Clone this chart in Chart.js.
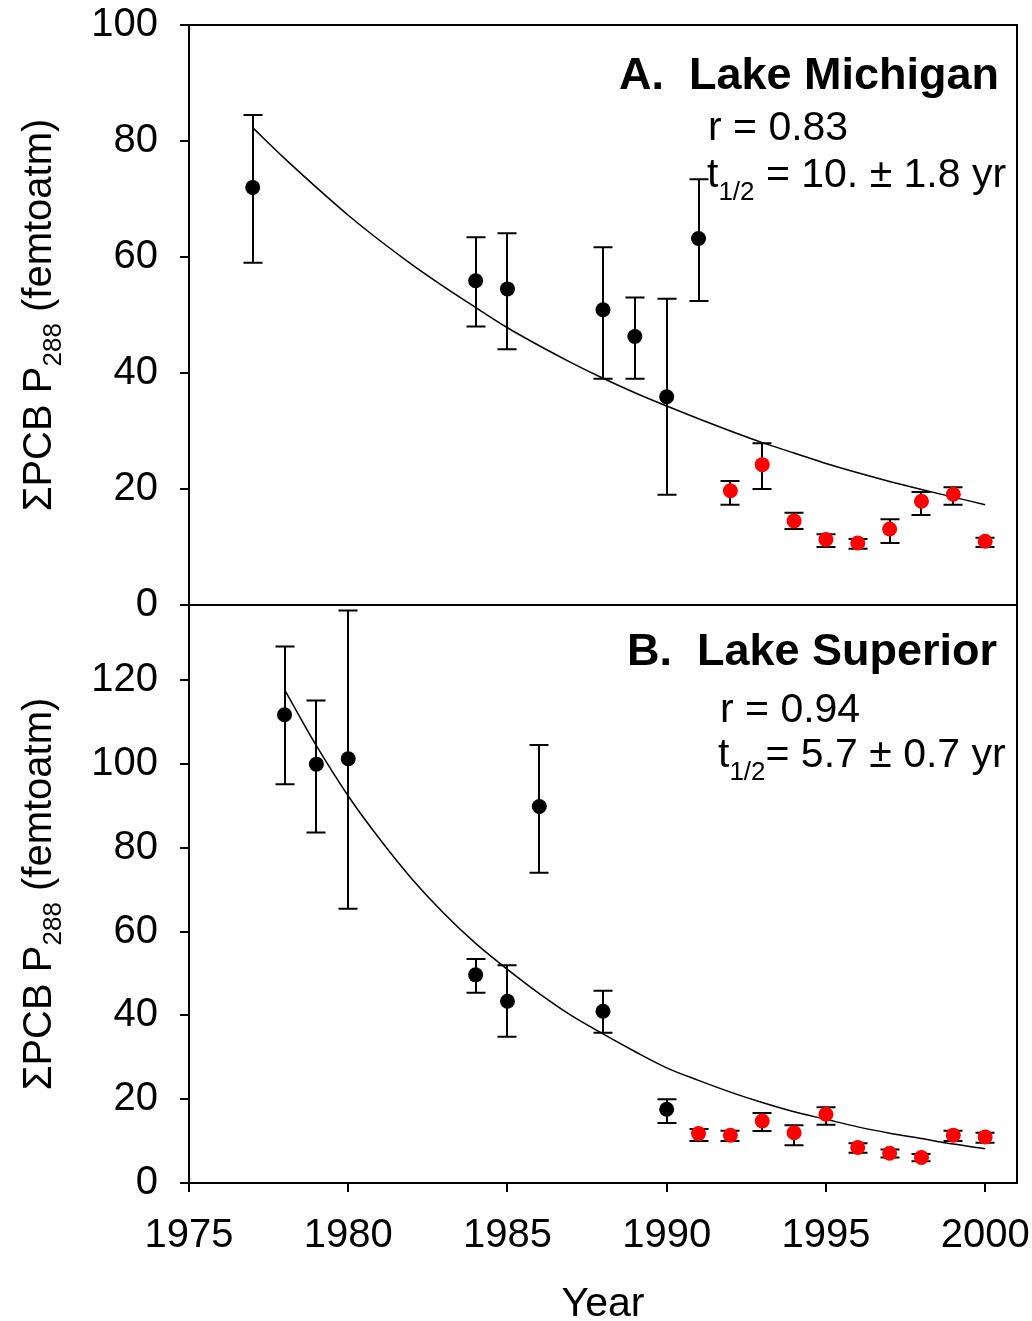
<!DOCTYPE html>
<html><head><meta charset="utf-8">
<script src="https://cdn.jsdelivr.net/npm/chart.js@4.4.0/dist/chart.umd.min.js"></script>
<style>
html,body{margin:0;padding:0;background:#fff;}
#wrap{position:relative;width:1032px;height:1321px;background:#fff;}
canvas{position:absolute;left:0;top:0;}
</style></head><body>
<div id="wrap"><canvas id="cA" width="1032" height="1321"></canvas><canvas id="cB" width="1032" height="1321"></canvas></div>
<script>
// ---------- data ----------
const xTickYears = [1975, 1980, 1985, 1990, 1995, 2000];
const yTicksA = [0, 20, 40, 60, 80, 100];
const yTicksB = [0, 20, 40, 60, 80, 100, 120];

// Panel A: Lake Michigan
const michBlackYears = [1977, 1984, 1985, 1988, 1989, 1990, 1991];
const michBlackVals  = [72.0, 55.9, 54.5, 50.9, 46.3, 35.9, 63.2];
const michBlackHi    = [84.5, 63.4, 64.1, 61.7, 53.0, 52.8, 73.4];
const michBlackLo    = [59.0, 48.0, 44.1, 39.0, 39.0, 19.0, 52.4];
const michRedYears = [1992, 1993, 1994, 1995, 1996, 1997, 1998, 1999, 2000];
const michRedVals  = [19.7, 24.2, 14.5, 11.3, 10.7, 13.1, 17.9, 19.1, 11.0];
const michRedHi    = [21.4, 27.9, 15.9, 12.2, 11.4, 14.8, 19.5, 20.3, 11.6];
const michRedLo    = [17.3, 20.0, 13.1, 10.0, 9.7, 10.7, 15.5, 17.3, 10.0];
const michFitYears = [1977,1978,1979,1980,1981,1982,1983,1984,1985,1986,1987,1988,1989,1990,1991,1992,1993,1994,1995,1996,1997,1998,1999,2000];
const michFitVals  = [82.3,77.0,72.0,67.2,62.8,58.7,54.9,51.3,47.8,44.7,41.8,39.1,36.6,34.3,32.1,30.0,28.0,26.2,24.4,22.8,21.3,19.9,18.6,17.3];

// Panel B: Lake Superior
const supBlackYears = [1978, 1979, 1980, 1984, 1985, 1986, 1988, 1990];
const supBlackVals  = [111.8, 100.0, 101.3, 49.7, 43.4, 89.9, 41.0, 17.6];
const supBlackHi    = [128.1, 115.2, 136.7, 53.5, 52.0, 104.6, 45.9, 20.0];
const supBlackLo    = [95.2, 83.7, 65.5, 45.4, 34.9, 74.1, 35.9, 14.3];
const supRedYears = [1991, 1992, 1993, 1994, 1995, 1996, 1997, 1998, 1999, 2000];
const supRedVals  = [11.8, 11.4, 14.8, 12.0, 16.4, 8.5, 7.1, 6.1, 11.4, 11.0];
const supRedHi    = [12.9, 12.5, 16.7, 13.8, 18.1, 9.5, 8.0, 6.9, 12.5, 12.0];
const supRedLo    = [10.0, 10.0, 12.4, 9.0, 13.9, 7.2, 6.1, 5.2, 10.0, 9.6];
const supFitYears = [1978,1979,1980,1981,1982,1983,1984,1985,1986,1987,1988,1989,1990,1991,1992,1993,1994,1995,1996,1997,1998,1999,2000];
const supFitVals  = [117.8,104.4,92.4,82.0,72.6,64.4,57.2,51.0,45.2,40.0,35.6,31.4,27.5,24.5,21.7,19.2,17.0,15.2,13.4,11.9,10.6,9.3,8.2];

// texts
const panelATitle = "A.  Lake Michigan";
const panelAR = "r = 0.83";
const panelAT = " = 10. \u00B1 1.8 yr";
const panelBTitle = "B.  Lake Superior";
const panelBR = "r = 0.94";
const panelBT = "= 5.7 \u00B1 0.7 yr";
const yTitleMain = "\u03A3PCB P";
const yTitleSub = "288";
const yTitleRest = " (femtoatm)";
const xTitle = "Year";

// ---------- helpers ----------
const FONT = "'Liberation Sans', Arial, sans-serif";
const pts = (xs, ys) => xs.map((x, i) => ({x: x, y: ys[i]}));

function errorBarPlugin(groups) {
  return {
    id: 'errbars',
    beforeDatasetsDraw(chart) {
      const ctx = chart.ctx, xs = chart.scales.x, ys = chart.scales.y;
      ctx.save();
      ctx.strokeStyle = '#000';
      ctx.lineWidth = 2;
      ctx.lineCap = 'butt';
      groups.forEach(g => {
        g.years.forEach((yr, i) => {
          const px = Math.round(xs.getPixelForValue(yr));
          const ph = ys.getPixelForValue(g.hi[i]);
          const pl = ys.getPixelForValue(g.lo[i]);
          ctx.beginPath();
          ctx.moveTo(px, ph); ctx.lineTo(px, pl);
          ctx.moveTo(px - 9.5, ph); ctx.lineTo(px + 9.5, ph);
          ctx.moveTo(px - 9.5, pl); ctx.lineTo(px + 9.5, pl);
          ctx.stroke();
        });
      });
      ctx.restore();
    }
  };
}

function framePlugin(opts) {
  return {
    id: 'frame',
    afterDraw(chart) {
      const ctx = chart.ctx, a = chart.chartArea;
      ctx.save();
      ctx.strokeStyle = '#000';
      ctx.lineWidth = 2;
      ctx.strokeRect(a.left, a.top, a.right - a.left, a.bottom - a.top);
      // panel texts
      ctx.fillStyle = '#000';
      ctx.textBaseline = 'alphabetic';
      ctx.font = 'bold 45px ' + FONT;
      ctx.textAlign = 'right';
      ctx.fillText(opts.title, opts.titleRight, opts.titleBase);
      ctx.textAlign = 'left';
      ctx.font = '41px ' + FONT;
      ctx.fillText(opts.r, opts.rLeft, opts.rBase);
      ctx.fillText('t', opts.tLeft, opts.tBase);
      const tw = ctx.measureText('t').width;
      ctx.font = '26px ' + FONT;
      ctx.fillText('1/2', opts.tLeft + tw, opts.tBase + 13);
      const sw = ctx.measureText('1/2').width;
      ctx.font = '41px ' + FONT;
      ctx.fillText(opts.tRest, opts.tLeft + tw + sw, opts.tBase);
      // y title (rotated)
      const cy = (a.top + a.bottom) / 2;
      ctx.translate(51, cy);
      ctx.rotate(-Math.PI / 2);
      ctx.font = '40px ' + FONT;
      const w1 = ctx.measureText(yTitleMain).width;
      const w3 = ctx.measureText(yTitleRest).width;
      ctx.font = '26px ' + FONT;
      const w2 = ctx.measureText(yTitleSub).width;
      let x0 = -(w1 + w2 + w3) / 2;
      ctx.font = '40px ' + FONT;
      ctx.fillText(yTitleMain, x0, 0);
      ctx.font = '26px ' + FONT;
      ctx.fillText(yTitleSub, x0 + w1, 10);
      ctx.font = '40px ' + FONT;
      ctx.fillText(yTitleRest, x0 + w1 + w2, 0);
      ctx.restore();
      if (opts.xTitle) {
        ctx.save();
        ctx.fillStyle = '#000';
        ctx.font = '41px ' + FONT;
        ctx.textAlign = 'center';
        ctx.textBaseline = 'alphabetic';
        ctx.fillText(opts.xTitle, (a.left + a.right) / 2, 1316);
        ctx.restore();
      }
    }
  };
}

function yAxis(max, tickVals) {
  return {
    type: 'linear', min: 0, max: max,
    afterBuildTicks: s => { s.ticks = tickVals.map(v => ({value: v})); },
    afterFit: s => { s.width = 189; },
    grid: {display: true, drawOnChartArea: false, drawTicks: true, tickLength: 9, color: '#000', lineWidth: 2},
    border: {display: true, color: '#000', width: 2},
    ticks: {color: '#000', font: {family: FONT, size: 40, lineHeight: 0.05}, padding: 22, callback: v => String(v)}
  };
}

function makeChart(id, cfg) {
  return new Chart(document.getElementById(id), {
    type: 'scatter',
    data: {datasets: [
      {data: pts(cfg.blackYears, cfg.blackVals), backgroundColor: '#000', borderColor: '#000', pointRadius: 7.5, pointBorderWidth: 0, order: 1},
      {data: pts(cfg.redYears, cfg.redVals), backgroundColor: '#ff0000', borderColor: '#ff0000', pointRadius: 7.5, pointBorderWidth: 0, order: 1},
      {data: pts(cfg.fitYears, cfg.fitVals), showLine: true, borderColor: '#000', borderWidth: 1.5, pointRadius: 0, cubicInterpolationMode: 'monotone', fill: false, order: 3}
    ]},
    options: {
      responsive: false, animation: false, devicePixelRatio: 1,
      layout: {padding: cfg.padding},
      plugins: {legend: {display: false}, tooltip: {enabled: false}},
      scales: {
        x: cfg.xAxis,
        y: yAxis(cfg.yMax, cfg.yTicks)
      }
    },
    plugins: [errorBarPlugin([
      {years: cfg.blackYears, hi: cfg.blackHi, lo: cfg.blackLo},
      {years: cfg.redYears, hi: cfg.redHi, lo: cfg.redLo}
    ]), framePlugin(cfg.text)]
  });
}

makeChart('cA', {
  blackYears: michBlackYears, blackVals: michBlackVals, blackHi: michBlackHi, blackLo: michBlackLo,
  redYears: michRedYears, redVals: michRedVals, redHi: michRedHi, redLo: michRedLo,
  fitYears: michFitYears, fitVals: michFitVals,
  yMax: 100, yTicks: yTicksA,
  padding: {top: 25, bottom: 1321 - 605, left: 0, right: 15},
  xAxis: {type: 'linear', min: 1975, max: 2001, display: false},
  text: {title: panelATitle, titleRight: 999, titleBase: 89, r: panelAR, rLeft: 708, rBase: 140,
         tLeft: 707, tBase: 187, tRest: panelAT}
});

makeChart('cB', {
  blackYears: supBlackYears, blackVals: supBlackVals, blackHi: supBlackHi, blackLo: supBlackLo,
  redYears: supRedYears, redVals: supRedVals, redHi: supRedHi, redLo: supRedLo,
  fitYears: supFitYears, fitVals: supFitVals,
  yMax: 138, yTicks: yTicksB,
  padding: {top: 605, bottom: 0, left: 0, right: 15},
  xAxis: {
    type: 'linear', min: 1975, max: 2001,
    afterBuildTicks: s => { s.ticks = xTickYears.map(v => ({value: v})); },
    afterFit: s => { s.height = 1321 - 1183; },
    grid: {display: true, drawOnChartArea: false, drawTicks: true, tickLength: 9, color: '#000', lineWidth: 2},
    border: {display: true, color: '#000', width: 2},
    ticks: {color: '#000', font: {family: FONT, size: 40, lineHeight: 2.2}, padding: 0, maxRotation: 0, autoSkip: false, callback: v => String(v)}
  },
  text: {title: panelBTitle, titleRight: 997, titleBase: 665, r: panelBR, rLeft: 720, rBase: 722,
         tLeft: 718, tBase: 767, tRest: panelBT, xTitle: xTitle}
});
</script>
</body></html>
